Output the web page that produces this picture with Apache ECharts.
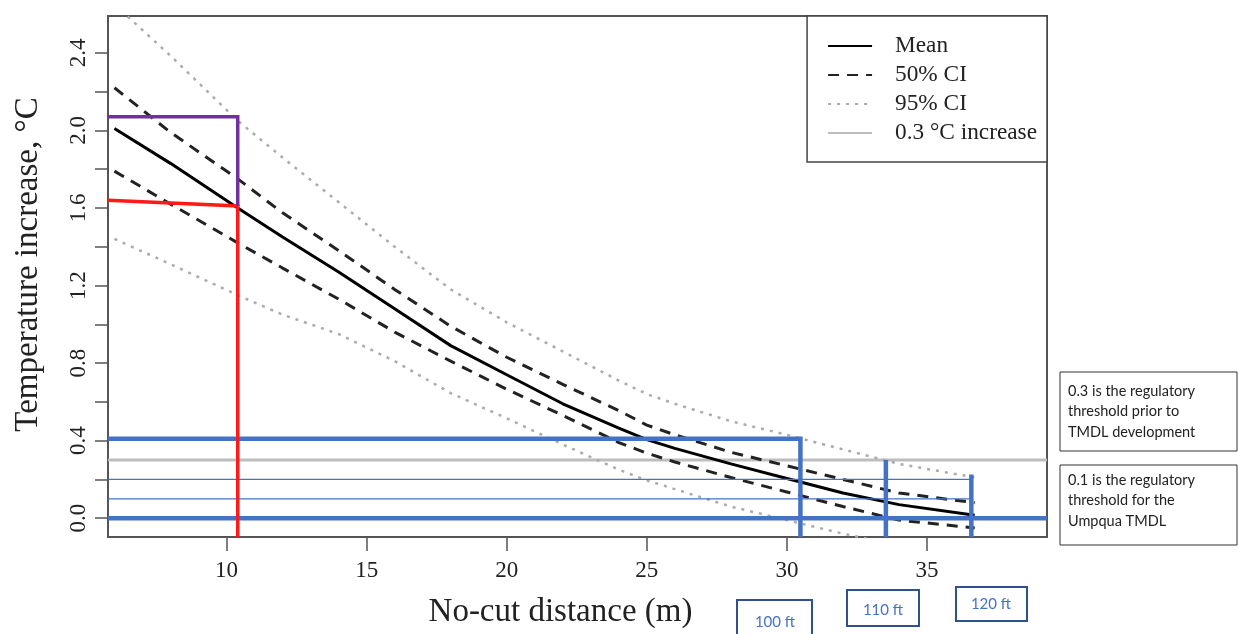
<!DOCTYPE html>
<html>
<head>
<meta charset="utf-8">
<script src="https://cdn.jsdelivr.net/npm/echarts@6/dist/echarts.min.js"></script>
<style>
html, body { margin: 0; padding: 0; background: #fff; }
#chart { width: 1238px; height: 634px; }
</style>
</head>
<body>
<div id="chart"></div>
<script>
// axis extents (m and °C) of the plotting frame
const xMin = 5.77, xMax = 39.28;
const yMin = -0.097, yMax = 2.59;

// no-cut distance (m) where the curves were read off the figure
const distance = [6, 8, 10.4, 12, 14, 16, 18, 20, 22, 24, 25, 26, 28, 30, 32, 34, 36.7];
const meanVals = [2.01, 1.83, 1.60, 1.45, 1.27, 1.08, 0.89, 0.74, 0.59, 0.465, 0.405, 0.36, 0.28, 0.205, 0.13, 0.07, 0.015];
const ci50Upper = [2.22, 1.99, 1.75, 1.575, 1.38, 1.18, 0.99, 0.83, 0.69, 0.555, 0.48, 0.43, 0.34, 0.27, 0.20, 0.13, 0.08];
const ci50Lower = [1.79, 1.62, 1.42, 1.29, 1.13, 0.96, 0.81, 0.665, 0.53, 0.39, 0.335, 0.29, 0.21, 0.135, 0.06, -0.01, -0.05];
const ci95Upper = [2.65, 2.385, 2.05, 1.86, 1.63, 1.40, 1.18, 1.01, 0.86, 0.71, 0.64, 0.59, 0.50, 0.43, 0.355, 0.28, 0.21];
const ci95Lower = [1.44, 1.31, 1.15, 1.05, 0.95, 0.81, 0.645, 0.515, 0.38, 0.25, 0.195, 0.15, 0.06, -0.01, -0.08, -0.14, -0.2];

const threshold = 0.3;

// hand drawn annotations, [distance, temperature]
const redPath = [[xMin, 1.64], [10.4, 1.61], [10.4, yMin]];
const purplePath = [[xMin, 2.07], [10.4, 2.07], [10.4, 1.61]];
const ft100Path = [[xMin, 0.41], [30.48, 0.41], [30.48, yMin]];
const ft110Path = [[33.53, 0.30], [33.53, yMin]];
const ft120Path = [[36.58, 0.225], [36.58, yMin]];
const zeroPath = [[xMin, 0], [xMax, 0]];
const thin02Path = [[xMin, 0.2], [36.58, 0.2]];
const thin01Path = [[xMin, 0.1], [36.58, 0.1]];

const xTickMin = 10, xTickMax = 35, xTickStep = 5;
const yTickMin = 0, yTickMax = 2.4, yTickStep = 0.2, yLabelStep = 0.4;

const pairs = (ys) => distance.map((x, i) => [x, ys[i]]);

// frame position in px
const gLeft = 108, gRight = 191, gTop = 16, gBottom = 97;
const plotW = 1238 - gLeft - gRight, plotH = 634 - gTop - gBottom;
const pxX = plotW / (xMax - xMin), pxY = plotH / (yMax - yMin);

const serif = 'Liberation Serif';
const blue = '#4472C4';
const hidden = { axisLine: { show: false }, axisTick: { show: false }, axisLabel: { show: false }, splitLine: { show: false } };

const myChart = echarts.init(document.getElementById('chart'));

function curve(name, ys, color, width, type) {
    return {
        name: name,
        type: 'line',
        xAxisIndex: 0, yAxisIndex: 0,
        data: pairs(ys),
        symbol: 'none',
        clip: true,
        lineStyle: { color: color, width: width, type: type },
        itemStyle: { color: color },
        z: 3
    };
}

function mark(path, color, width, z) {
    return {
        type: 'line',
        xAxisIndex: 0, yAxisIndex: 0,
        data: path,
        symbol: 'none',
        clip: true,
        silent: true,
        lineStyle: { color: color, width: width, cap: 'butt', join: 'miter' },
        z: z
    };
}

myChart.setOption({
    animation: false,
    grid: [
        // data frame
        { left: gLeft, right: gRight, top: gTop, bottom: gBottom, outerBoundsMode: 'none', show: true, borderColor: '#555', borderWidth: 2, backgroundColor: '#fff' },
        // y ticks 0.0 .. 2.4
        {
            left: gLeft, right: gRight,
            top: gTop + (yMax - yTickMax) * pxY,
            bottom: gBottom + (yTickMin - yMin) * pxY,
            outerBoundsMode: 'none'
        },
        // x ticks 10 .. 35
        {
            left: gLeft + (xTickMin - xMin) * pxX,
            right: gRight + (xMax - xTickMax) * pxX,
            top: gTop, bottom: gBottom,
            outerBoundsMode: 'none'
        }
    ],
    legend: {
        orient: 'vertical',
        right: gRight,
        top: gTop,
        padding: [18, 10, 17, 20],
        itemWidth: 44,
        itemHeight: 14,
        itemGap: 5,
        borderColor: '#444',
        borderWidth: 1.5,
        backgroundColor: '#fff',
        itemStyle: { opacity: 0 },
        data: ['Mean', '50% CI', '95% CI', '0.3 °C increase'],
        textStyle: { fontFamily: serif, fontSize: 23.3, color: '#222', lineHeight: 24, padding: [0, 0, 0, 18] }
    },
    xAxis: [
        Object.assign({
            type: 'value', gridIndex: 0, min: xMin, max: xMax,
            name: 'No-cut distance (m)', nameLocation: 'middle', nameGap: 59,
            nameTextStyle: { fontFamily: serif, fontSize: 33, color: '#222', padding: [0, 34, 0, 0] }
        }, hidden),
        Object.assign({ type: 'value', gridIndex: 1, min: 0, max: 1 }, hidden),
        {
            type: 'value', gridIndex: 2, min: xTickMin, max: xTickMax, interval: xTickStep,
            axisLine: { show: false },
            axisTick: { show: true, length: 14, lineStyle: { color: '#555', width: 1.5 } },
            axisLabel: { fontFamily: serif, fontSize: 23, color: '#222', margin: 22 },
            splitLine: { show: false }
        }
    ],
    yAxis: [
        Object.assign({
            type: 'value', gridIndex: 0, min: yMin, max: yMax,
            name: 'Temperature increase, °C', nameLocation: 'middle', nameGap: 63,
            nameTextStyle: { fontFamily: serif, fontSize: 33, color: '#222', padding: [0, 0, 0, 24] }
        }, hidden),
        {
            type: 'value', gridIndex: 1, min: yTickMin, max: yTickMax, interval: yTickStep,
            axisLine: { show: false },
            axisTick: { show: true, length: 13, lineStyle: { color: '#555', width: 1.5 } },
            axisLabel: {
                fontFamily: serif, fontSize: 23, color: '#222', margin: 18, rotate: 90,
                formatter: (v) => Math.abs(v / yLabelStep - Math.round(v / yLabelStep)) < 1e-6 ? v.toFixed(1) : ''
            },
            splitLine: { show: false }
        },
        Object.assign({ type: 'value', gridIndex: 2, min: 0, max: 1 }, hidden)
    ],
    series: [
        curve('95% CI', ci95Upper, '#ababab', 2.5, [3, 6]),
        curve('95% CI', ci95Lower, '#ababab', 2.5, [3, 6]),
        curve('50% CI', ci50Upper, '#222', 3, [11, 8]),
        curve('50% CI', ci50Lower, '#222', 3, [11, 8]),
        curve('Mean', meanVals, '#000', 3, 'solid'),
        {
            name: '0.3 °C increase',
            type: 'line',
            data: [[xMin, threshold], [xMax, threshold]],
            symbol: 'none',
            lineStyle: { color: '#bdbdbd', width: 3 },
            itemStyle: { color: '#bdbdbd' },
            z: 2
        },
        mark(thin02Path, blue, 1.2, 5),
        mark(thin01Path, blue, 1.2, 5),
        mark(zeroPath, blue, 4.5, 6),
        mark(ft100Path, blue, 4.5, 6),
        mark(ft110Path, blue, 4.5, 6),
        mark(ft120Path, blue, 4.5, 6),
        mark(redPath, '#ff1a1a', 3.5, 7),
        mark(purplePath, '#7030a0', 3.5, 7)
    ],
    graphic: [
        { type: 'rect', shape: { x: 1060, y: 372, width: 177, height: 79 }, style: { fill: '#fff', stroke: '#333', lineWidth: 1 } },
        { type: 'text', x: 1068, y: 381, style: { text: '0.3 is the regulatory\nthreshold prior to\nTMDL development', font: '14.5px Lato', fill: '#222', lineHeight: 20.5 } },
        { type: 'rect', shape: { x: 1060, y: 465, width: 177, height: 80 }, style: { fill: '#fff', stroke: '#333', lineWidth: 1 } },
        { type: 'text', x: 1068, y: 470, style: { text: '0.1 is the regulatory\nthreshold for the\nUmpqua TMDL', font: '14.5px Lato', fill: '#222', lineHeight: 20.5 } },
        { type: 'rect', shape: { x: 737, y: 600, width: 75, height: 50 }, style: { fill: '#fff', stroke: '#2f528f', lineWidth: 2 } },
        { type: 'text', x: 775, y: 622, style: { text: '100 ft', font: '15px Lato', fill: blue, align: 'center', verticalAlign: 'middle' } },
        { type: 'rect', shape: { x: 847, y: 590, width: 72, height: 36 }, style: { fill: '#fff', stroke: '#2f528f', lineWidth: 2 } },
        { type: 'text', x: 883, y: 610, style: { text: '110 ft', font: '15px Lato', fill: blue, align: 'center', verticalAlign: 'middle' } },
        { type: 'rect', shape: { x: 956, y: 587, width: 71, height: 34 }, style: { fill: '#fff', stroke: '#2f528f', lineWidth: 2 } },
        { type: 'text', x: 991, y: 604, style: { text: '120 ft', font: '15px Lato', fill: blue, align: 'center', verticalAlign: 'middle' } }
    ]
});

window.addEventListener('resize', function () {
    myChart.resize();
});
</script>
</body>
</html>
